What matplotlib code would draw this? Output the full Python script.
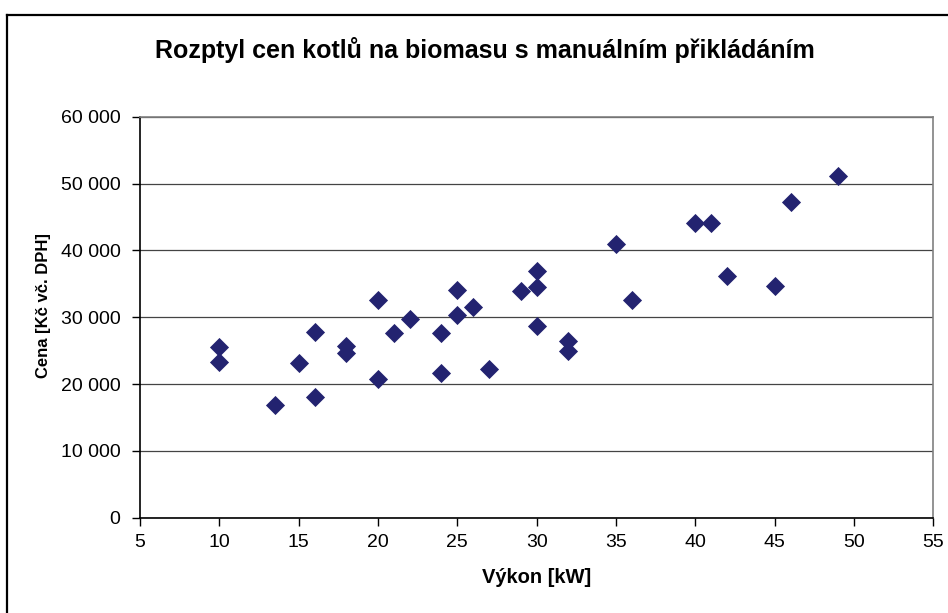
import matplotlib
matplotlib.use('Agg')
import matplotlib.pyplot as plt
from matplotlib.ticker import FuncFormatter
from matplotlib.lines import Line2D

# výkon [kW] a cena [Kč vč. DPH]
vykon = [10, 10, 13.5, 15, 16, 16, 18, 18, 20, 20, 21, 22, 24, 24, 25, 25,
         26, 27, 29, 30, 30, 30, 32, 32, 35, 36, 40, 41, 42, 45, 46, 49]
cena = [25500, 23300, 16800, 23100, 27800, 18000, 25700, 24700, 32500, 20700,
        27600, 29700, 27600, 21700, 34100, 30300, 31500, 22200, 33900, 36900,
        34500, 28700, 26500, 24900, 41000, 32500, 44100, 44100, 36200, 34600,
        47200, 51100]

xticks = list(range(5, 56, 5))
yticks = list(range(0, 60001, 10000))

plt.rcParams['font.family'] = ['Liberation Sans', 'DejaVu Sans']

fig = plt.figure(figsize=(9.48, 6.13), dpi=100)
ax = fig.add_axes([140 / 948, 1 - 517.7 / 613, 793.3 / 948, 401 / 613])

# outer chart frame (only left and top visible)
fig.add_artist(Line2D([7 / 948, 7 / 948], [0, 1 - 14.5 / 613],
                      transform=fig.transFigure, color='black', lw=1.6))
fig.add_artist(Line2D([7 / 948, 1], [1 - 14.5 / 613, 1 - 14.5 / 613],
                      transform=fig.transFigure, color='black', lw=1.6))

ax.scatter(vykon, cena, marker='D', s=95, color='#232370', zorder=3,
           linewidths=0)

ax.set_xlim(5, 55)
ax.set_ylim(0, 60000)
ax.set_xticks(xticks)
ax.set_yticks(yticks)
ax.yaxis.set_major_formatter(
    FuncFormatter(lambda v, p: '{:,.0f}'.format(v).replace(',', ' ')))
ax.grid(axis='y', color='#444444', lw=0.9)
ax.set_axisbelow(True)

for s in ['top', 'right']:
    ax.spines[s].set_color('#808080')
    ax.spines[s].set_linewidth(1.2)
for s in ['left', 'bottom']:
    ax.spines[s].set_color('black')
    ax.spines[s].set_linewidth(1.2)

ax.tick_params(direction='out', length=6, width=1, labelsize=14)
ax.tick_params(axis='x', pad=6)
ax.tick_params(axis='y', pad=8)

ax.set_xlabel('Výkon [kW]', fontsize=14.5, fontweight='bold', labelpad=12)
ax.set_ylabel('Cena [Kč vč. DPH]', fontsize=12, fontweight='bold')
ax.yaxis.set_label_coords(-0.1125, 0.528)
fig.text(485 / 948, 1 - 50 / 613,
         'Rozptyl cen kotlů na biomasu s manuálním přikládáním',
         fontsize=18, fontweight='bold', ha='center', va='center')

fig.savefig('out.png', dpi=100)
